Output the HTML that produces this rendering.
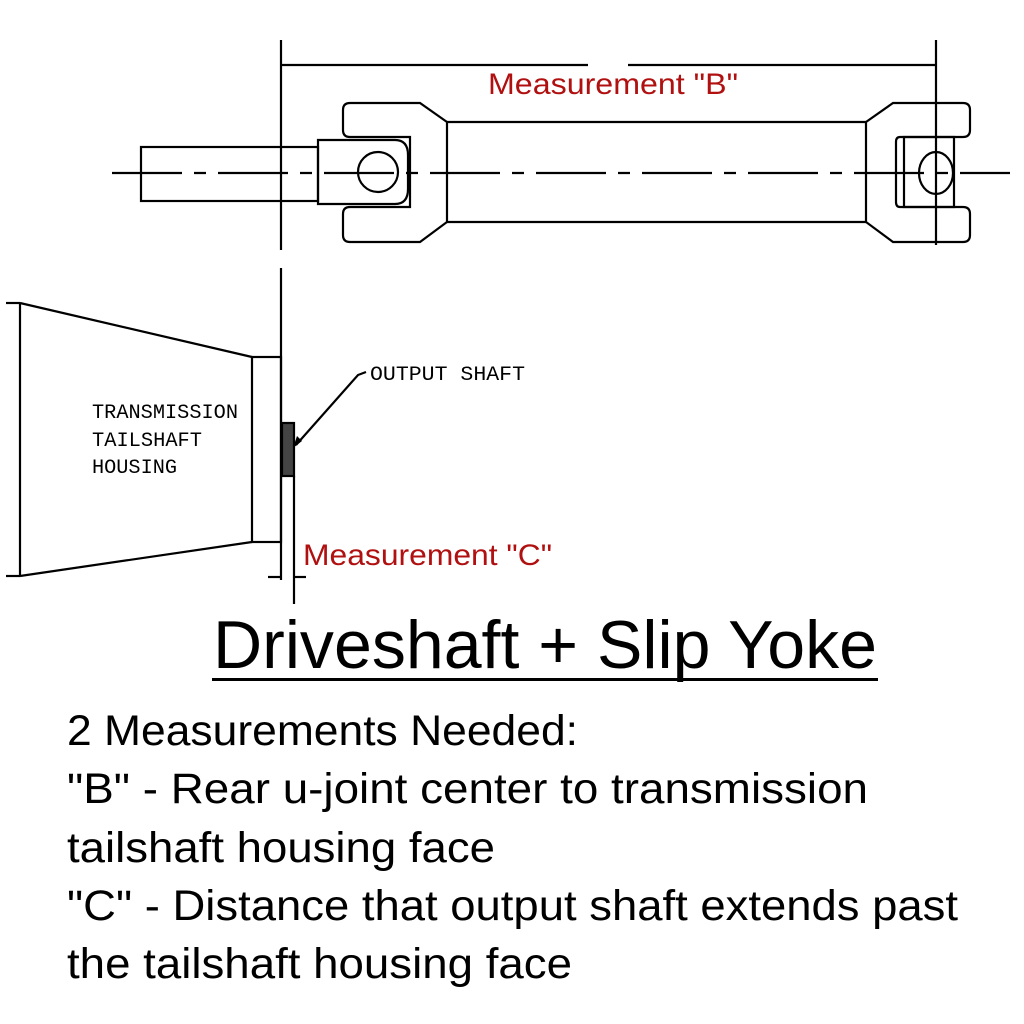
<!DOCTYPE html>
<html><head><meta charset="utf-8"><style>
html,body{margin:0;padding:0;background:#fff;}
svg{display:block;}
</style></head><body>
<svg width="1024" height="1024" viewBox="0 0 1024 1024" xmlns="http://www.w3.org/2000/svg">
<g fill="none" stroke="#000" stroke-width="2.2">
  <line x1="281" y1="40" x2="281" y2="250"/>
  <line x1="281" y1="268" x2="281" y2="580"/>
  <line x1="936" y1="40" x2="936" y2="245"/>
  <line x1="281" y1="65" x2="588" y2="65"/>
  <line x1="628" y1="65" x2="936" y2="65"/>
  <line x1="112" y1="173" x2="1010" y2="173" stroke-dasharray="70,12,12,12"/>
  <rect x="141" y="147" width="177" height="54"/>
  <path d="M318 140 H395 Q408 140 408 155 V189 Q408 204 395 204 H318 Z"/>
  <circle cx="378" cy="172" r="20"/>
  <path d="M447 122 L420 103 H350 Q343 103 343 110 V130 Q343 137 350 137 H410 V207 H350 Q343 207 343 214 V235 Q343 242 350 242 H420 L447 222 Z"/>
  <line x1="447" y1="122" x2="866" y2="122"/>
  <line x1="447" y1="222" x2="866" y2="222"/>
  <path d="M866 122 L893 103 H963 Q970 103 970 110 V130 Q970 137 963 137 H900 Q896 137 896 142 V202 Q896 207 900 207 H963 Q970 207 970 214 V235 Q970 242 963 242 H893 L866 222 Z"/>
  <rect x="904" y="137" width="50" height="70"/>
  <ellipse cx="936" cy="173" rx="17" ry="21"/>
  <line x1="20" y1="303" x2="20" y2="576"/>
  <line x1="6" y1="303" x2="20" y2="303"/>
  <line x1="6" y1="576" x2="20" y2="576"/>
  <line x1="20" y1="303" x2="252" y2="357"/>
  <line x1="20" y1="576" x2="252" y2="542"/>
  <rect x="252" y="357" width="29" height="185"/>
  <rect x="282" y="423" width="12" height="53" fill="#444"/>
  <line x1="294" y1="476" x2="294" y2="604"/>
  <polyline points="296,445 358,375 366,372"/>
  <line x1="268" y1="577" x2="281" y2="577"/>
  <line x1="294" y1="577" x2="306" y2="577"/>
</g>
<polygon points="293,448 297,436 302,441" fill="#000"/>
<g font-family="Liberation Mono, monospace" font-size="20" fill="#000">
  <text x="370" y="380" textLength="155" lengthAdjust="spacingAndGlyphs">OUTPUT SHAFT</text>
  <text x="92" y="418" textLength="146" lengthAdjust="spacingAndGlyphs">TRANSMISSION</text>
  <text x="92" y="446" textLength="110" lengthAdjust="spacingAndGlyphs">TAILSHAFT</text>
  <text x="92" y="473" textLength="85" lengthAdjust="spacingAndGlyphs">HOUSING</text>
</g>
<g font-family="Liberation Sans, sans-serif" fill="#b01010" font-size="30">
  <text x="488" y="94" textLength="250" lengthAdjust="spacingAndGlyphs">Measurement "B"</text>
  <text x="303" y="565" textLength="249" lengthAdjust="spacingAndGlyphs">Measurement "C"</text>
</g>
<g font-family="Liberation Sans, sans-serif" fill="#000">
  <text x="213" y="668" font-size="68" textLength="664" lengthAdjust="spacingAndGlyphs">Driveshaft + Slip Yoke</text>
  <rect x="212" y="678" width="666" height="3"/>
  <g font-size="43">
    <text x="67" y="745" textLength="511" lengthAdjust="spacingAndGlyphs">2 Measurements Needed:</text>
    <text x="67" y="803" textLength="801" lengthAdjust="spacingAndGlyphs">"B" - Rear u-joint center to transmission</text>
    <text x="67" y="862" textLength="428" lengthAdjust="spacingAndGlyphs">tailshaft housing face</text>
    <text x="67" y="920" textLength="891" lengthAdjust="spacingAndGlyphs">"C" - Distance that output shaft extends past</text>
    <text x="67" y="978" textLength="505" lengthAdjust="spacingAndGlyphs">the tailshaft housing face</text>
  </g>
</g>
</svg>
</body></html>
